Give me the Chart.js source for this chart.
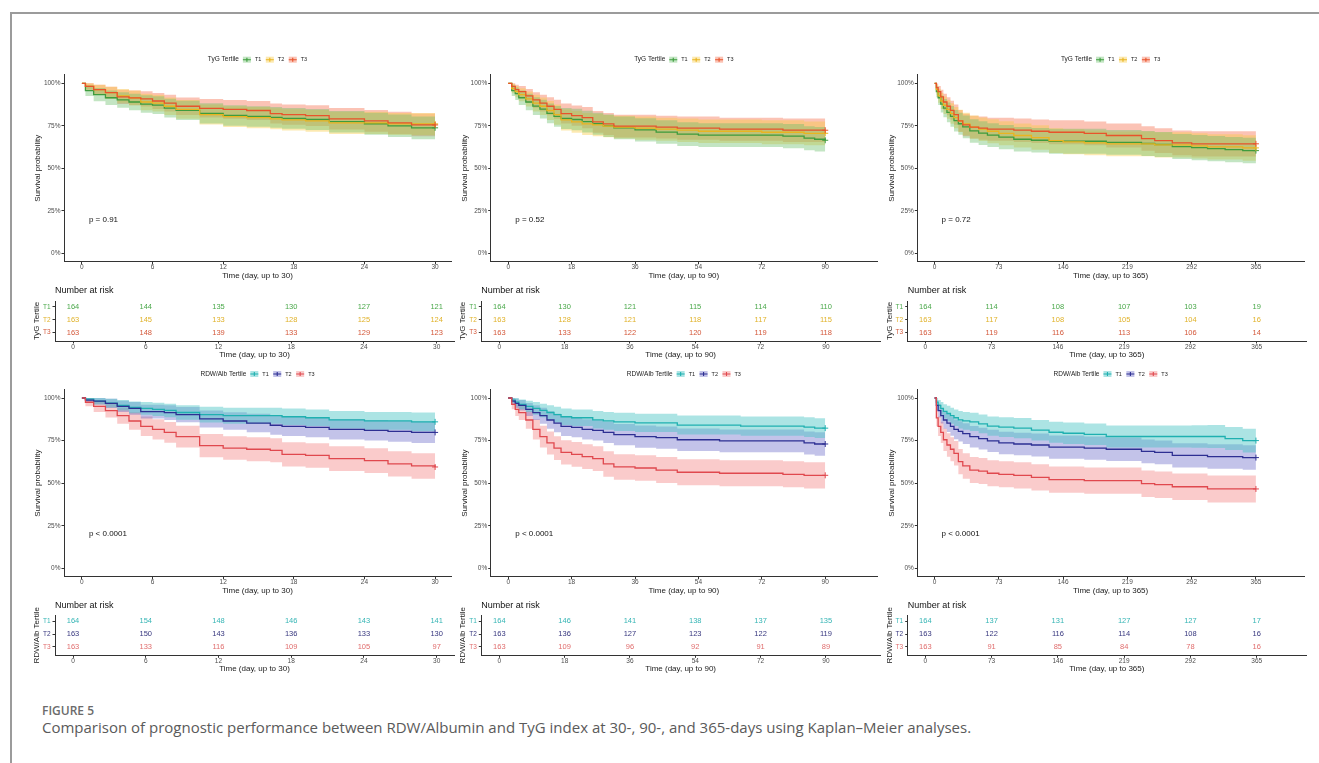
<!DOCTYPE html>
<html>
<head>
<meta charset="utf-8">
<title>Figure 5</title>
<script src="https://cdn.jsdelivr.net/npm/chart.js@4.4.1/dist/chart.umd.min.js"></script>
<style>
  body { margin: 0; background: #fff; }
  #page { position: relative; width: 1319px; height: 763px; overflow: hidden; background: #fff; }
  #frame { position: absolute; left: 10px; top: 12px; width: 1400px; height: 800px;
           border-top: 2px solid #9b9b9b; border-left: 2px solid #9b9b9b; }
  canvas { position: absolute; }
  .fig { position: absolute; left: 42px; top: 702px; font: 600 12px "Open Sans", sans-serif; color: #6b6b6b; }
  .cap { position: absolute; left: 42px; top: 717px; font: 15px "Open Sans", sans-serif; color: #5a5a5a; white-space: nowrap; }
</style>
</head>
<body>
<div id="page">
  <div id="frame"></div>
  <div class="fig">FIGURE 5</div>
  <div class="cap">Comparison of prognostic performance between RDW/Albumin and TyG index at 30-, 90-, and 365-days using Kaplan–Meier analyses.</div>
</div>
<script>
// ---- time grids (days) ----
const grid30 = [0, 0.3, 1, 2, 3, 4, 5, 6, 7, 8, 10, 12, 14, 16, 17, 19, 21, 24, 26, 28, 30];
const grid90 = [0, 1, 2, 3, 5, 7, 9, 11, 13, 15, 18, 21, 24, 27, 30, 36, 42, 48, 54, 60, 66, 72, 78, 84, 87, 90];
const grid365 = [0, 2, 4, 7, 10, 14, 18, 22, 27, 32, 40, 50, 60, 73, 90, 110, 130, 146, 170, 195, 219, 235, 250, 270, 292, 310, 330, 350, 365];

// ---- survival (%) and CI half width, TyG tertiles ----
const tyg30T1 = [100, 95.7, 93.3, 91.5, 90.2, 89.0, 87.8, 87.2, 85.4, 84.1, 82.3, 81.1, 80.5, 79.9, 79.3, 78.7, 77.4, 76.2, 75.0, 73.8, 73.8];
const tyg30T1ci = [0, 3.2, 3.9, 4.3, 4.6, 4.8, 5.1, 5.2, 5.5, 5.7, 5.9, 6.0, 6.0, 6.1, 6.1, 6.2, 6.3, 6.5, 6.6, 6.7, 6.7];
const tyg30T2 = [100, 98.2, 96.3, 94.5, 92.6, 91.4, 89.0, 88.3, 86.5, 84.7, 81.6, 80.4, 79.8, 79.1, 78.5, 77.9, 76.7, 76.7, 76.1, 76.1, 76.1];
const tyg30T2ci = [0, 2.0, 2.9, 3.5, 4.0, 4.3, 4.8, 4.9, 5.2, 5.5, 5.9, 6.1, 6.2, 6.2, 6.3, 6.4, 6.5, 6.5, 6.5, 6.5, 6.5];
const tyg30T3 = [100, 98.2, 96.3, 94.5, 92.0, 91.4, 90.8, 89.6, 88.3, 86.5, 85.3, 84.7, 84.0, 82.2, 81.6, 81.0, 79.1, 77.9, 76.7, 75.5, 75.5];
const tyg30T3ci = [0, 2.0, 2.9, 3.5, 4.2, 4.3, 4.5, 4.7, 4.9, 5.2, 5.4, 5.5, 5.6, 5.9, 6.0, 6.1, 6.3, 6.4, 6.5, 6.7, 6.7];

const tyg90T1 = [100, 95.7, 93.9, 91.5, 89.0, 86.6, 84.8, 82.3, 80.5, 79.3, 78.7, 77.4, 76.2, 75.0, 73.8, 72.6, 71.3, 70.1, 69.5, 69.5, 69.5, 69.5, 68.9, 67.7, 67.1, 66.5];
const tyg90T1ci = [0, 3.1, 3.7, 4.3, 4.8, 5.2, 5.5, 5.8, 6.1, 6.2, 6.3, 6.4, 6.5, 6.6, 6.7, 6.8, 6.9, 7.0, 7.0, 7.0, 7.0, 7.0, 7.1, 7.1, 7.2, 7.2];
const tyg90T2 = [100, 96.9, 95.1, 93.3, 90.8, 88.3, 86.5, 84.0, 81.6, 78.5, 77.3, 76.1, 75.5, 74.8, 74.2, 73.6, 73.0, 72.4, 71.8, 71.8, 71.8, 71.2, 71.2, 70.6, 70.6, 70.6];
const tyg90T2ci = [0, 2.7, 3.3, 3.8, 4.4, 4.9, 5.2, 5.6, 6.0, 6.3, 6.4, 6.5, 6.6, 6.6, 6.7, 6.8, 6.8, 6.9, 6.9, 6.9, 6.9, 7.0, 7.0, 7.0, 7.0, 7.0];
const tyg90T3 = [100, 98.2, 96.3, 95.1, 92.6, 90.2, 88.3, 86.5, 84.7, 82.2, 81.0, 79.8, 77.3, 76.1, 74.8, 74.8, 74.2, 73.6, 73.6, 73.0, 73.0, 73.0, 72.4, 72.4, 72.4, 72.4];
const tyg90T3ci = [0, 2.0, 2.9, 3.3, 4.0, 4.6, 4.9, 5.3, 5.6, 5.9, 6.0, 6.2, 6.4, 6.5, 6.7, 6.7, 6.7, 6.8, 6.8, 6.8, 6.8, 6.8, 6.9, 6.9, 6.9, 6.9];

const tyg365T1 = [100, 95.1, 91.5, 87.8, 85.4, 82.9, 80.5, 78.0, 76.2, 74.4, 72.0, 70.7, 69.5, 68.3, 67.1, 66.5, 65.9, 65.9, 65.9, 65.2, 65.2, 64.6, 64.0, 62.8, 62.2, 61.6, 61.0, 60.4, 60.4];
const tyg365T1ci = [0, 3.3, 4.3, 5.0, 5.4, 5.8, 6.1, 6.3, 6.5, 6.7, 6.9, 7.0, 7.0, 7.1, 7.2, 7.2, 7.3, 7.3, 7.3, 7.3, 7.3, 7.3, 7.3, 7.4, 7.4, 7.4, 7.4, 7.5, 7.5];
const tyg365T2 = [100, 96.3, 92.6, 89.6, 87.1, 84.7, 82.2, 79.8, 77.9, 76.1, 74.2, 73.0, 71.8, 70.6, 69.3, 68.1, 66.3, 65.6, 65.0, 64.4, 64.4, 64.4, 63.8, 63.8, 63.2, 62.6, 62.6, 62.0, 62.0];
const tyg365T2ci = [0, 3.0, 4.1, 4.7, 5.2, 5.6, 6.0, 6.2, 6.5, 6.6, 6.8, 6.9, 7.0, 7.1, 7.1, 7.2, 7.3, 7.3, 7.3, 7.3, 7.3, 7.3, 7.4, 7.4, 7.4, 7.4, 7.4, 7.5, 7.5];
const tyg365T3 = [100, 97.5, 95.1, 92.0, 89.0, 86.5, 84.1, 81.6, 77.9, 75.5, 74.2, 73.6, 73.0, 73.0, 72.4, 71.8, 71.2, 71.2, 70.6, 69.3, 69.3, 67.5, 66.3, 65.0, 64.4, 64.4, 64.4, 64.4, 64.4];
const tyg365T3ci = [0, 2.4, 3.3, 4.2, 4.8, 5.3, 5.6, 6.0, 6.4, 6.6, 6.7, 6.8, 6.8, 6.8, 6.9, 6.9, 7.0, 7.0, 7.0, 7.1, 7.1, 7.2, 7.3, 7.3, 7.4, 7.4, 7.4, 7.4, 7.4];

// ---- survival (%) and CI half width, RDW/Alb tertiles ----
const rdw30T1 = [100, 99.4, 98.2, 97.0, 95.7, 94.5, 93.9, 93.3, 92.7, 91.5, 90.2, 89.6, 89.6, 89.6, 89.0, 88.4, 87.2, 86.6, 86.6, 86.0, 86.0];
const rdw30T1ci = [0, 1.2, 2.0, 2.6, 3.1, 3.5, 3.7, 3.9, 4.0, 4.3, 4.6, 4.7, 4.7, 4.7, 4.8, 4.9, 5.1, 5.2, 5.2, 5.5, 5.5];
const rdw30T2 = [100, 98.8, 98.2, 96.9, 95.1, 93.9, 92.0, 92.0, 91.4, 90.2, 87.7, 86.5, 85.3, 84.0, 83.4, 82.8, 81.6, 81.0, 80.4, 79.8, 79.8];
const rdw30T2ci = [0, 1.7, 2.0, 2.7, 3.3, 3.7, 4.1, 4.1, 4.3, 4.5, 5.0, 5.2, 5.4, 5.6, 5.7, 5.8, 5.9, 6.0, 6.1, 6.2, 6.2];
const rdw30T3 = [100, 97.5, 95.1, 92.6, 89.6, 86.5, 83.4, 81.6, 79.8, 77.3, 72.0, 70.6, 69.9, 69.3, 66.9, 66.3, 64.4, 63.2, 61.3, 60.1, 59.5];
const rdw30T3ci = [0, 2.4, 3.3, 4.0, 4.7, 5.2, 5.7, 5.9, 6.1, 6.4, 6.8, 6.9, 7.0, 7.0, 7.1, 7.2, 7.3, 7.3, 7.4, 7.5, 7.5];

const rdw90T1 = [100, 98.8, 97.6, 96.3, 95.1, 93.9, 92.7, 91.5, 90.2, 89.0, 88.4, 88.4, 87.2, 86.6, 86.0, 85.4, 85.4, 84.1, 84.1, 84.1, 83.5, 83.5, 83.5, 82.9, 82.3, 82.3];
const rdw90T1ci = [0, 1.7, 2.4, 2.9, 3.3, 3.7, 4.0, 4.3, 4.6, 4.8, 4.9, 4.9, 5.1, 5.2, 5.3, 5.4, 5.4, 5.6, 5.6, 5.6, 5.7, 5.7, 5.7, 5.8, 5.8, 5.8];
const rdw90T2 = [100, 98.2, 96.9, 95.7, 93.3, 91.4, 89.6, 87.1, 85.3, 83.4, 82.8, 81.6, 81.0, 79.8, 78.5, 77.3, 76.7, 75.5, 75.5, 74.8, 74.8, 74.8, 74.8, 73.6, 73.0, 73.0];
const rdw90T2ci = [0, 2.0, 2.7, 3.1, 3.8, 4.3, 4.7, 5.1, 5.4, 5.7, 5.8, 6.0, 6.0, 6.2, 6.3, 6.5, 6.5, 6.6, 6.6, 6.7, 6.7, 6.7, 6.7, 6.8, 6.9, 6.9];
const rdw90T3 = [100, 96.3, 93.3, 91.4, 87.1, 81.6, 77.3, 73.6, 70.6, 68.1, 66.9, 65.6, 64.4, 61.3, 59.5, 58.9, 57.7, 56.4, 56.4, 55.8, 55.8, 55.8, 55.2, 54.6, 54.6, 54.6];
const rdw90T3ci = [0, 2.9, 3.8, 4.3, 5.1, 5.9, 6.4, 6.8, 7.0, 7.1, 7.2, 7.3, 7.3, 7.5, 7.5, 7.5, 7.6, 7.6, 7.6, 7.6, 7.6, 7.6, 7.6, 7.7, 7.7, 7.7];

const rdw365T1 = [100, 97.6, 95.7, 93.9, 92.1, 90.9, 89.6, 88.4, 87.2, 86.6, 86.0, 84.8, 83.5, 82.9, 82.3, 81.1, 79.9, 79.3, 78.7, 77.4, 77.4, 77.4, 77.4, 77.4, 77.4, 77.4, 76.2, 75.0, 75.0];
const rdw365T1ci = [0, 2.4, 3.2, 3.8, 4.2, 4.5, 4.7, 4.9, 5.1, 5.2, 5.3, 5.5, 5.6, 5.8, 5.9, 6.0, 6.2, 6.3, 6.3, 6.5, 6.5, 6.5, 6.5, 6.5, 6.6, 6.7, 6.8, 7.0, 7.0];
const rdw365T2 = [100, 95.7, 92.6, 89.6, 87.1, 85.3, 83.4, 81.6, 80.4, 79.1, 77.3, 76.1, 74.8, 73.6, 73.0, 72.4, 71.2, 71.2, 70.6, 69.9, 69.9, 68.7, 68.1, 66.3, 66.3, 65.6, 65.6, 65.0, 65.0];
const rdw365T2ci = [0, 3.1, 4.0, 4.6, 5.1, 5.3, 5.6, 5.8, 6.0, 6.1, 6.3, 6.4, 6.5, 6.6, 6.6, 6.7, 6.8, 6.8, 6.8, 6.9, 6.9, 7.0, 7.0, 7.1, 7.1, 7.2, 7.2, 7.2, 7.2];
const rdw365T3 = [100, 88.3, 83.4, 79.8, 75.5, 72.4, 69.9, 67.5, 62.6, 60.1, 57.7, 57.1, 55.8, 55.2, 54.6, 53.4, 52.1, 52.1, 51.5, 51.5, 51.5, 49.7, 49.1, 47.9, 47.9, 46.6, 46.6, 46.6, 46.6];
const rdw365T3ci = [0, 4.9, 5.7, 6.2, 6.6, 6.9, 7.0, 7.2, 7.4, 7.5, 7.6, 7.6, 7.6, 7.6, 7.7, 7.7, 7.7, 7.7, 7.7, 7.7, 7.7, 7.8, 7.8, 7.8, 7.8, 7.9, 7.9, 7.9, 7.9];

// ---- number at risk ----
const riskTyg30 = [[164, 144, 135, 130, 127, 121], [163, 145, 133, 128, 125, 124], [163, 148, 139, 133, 129, 123]];
const riskTyg90 = [[164, 130, 121, 115, 114, 110], [163, 128, 121, 118, 117, 115], [163, 133, 122, 120, 119, 118]];
const riskTyg365 = [[164, 114, 108, 107, 103, 19], [163, 117, 108, 105, 104, 16], [163, 119, 116, 113, 106, 14]];
const riskRdw30 = [[164, 154, 148, 146, 143, 141], [163, 150, 143, 136, 133, 130], [163, 133, 116, 109, 105, 97]];
const riskRdw90 = [[164, 146, 141, 138, 137, 135], [163, 136, 127, 123, 122, 119], [163, 109, 96, 92, 91, 89]];
const riskRdw365 = [[164, 137, 131, 127, 127, 17], [163, 122, 116, 114, 108, 16], [163, 91, 85, 84, 78, 16]];

// ---- ticks and labels ----
const xTicks30 = [0, 6, 12, 18, 24, 30];
const xTicks90 = [0, 18, 36, 54, 72, 90];
const xTicks365 = [0, 73, 146, 219, 292, 365];
const yTicks = [0, 25, 50, 75, 100];
const groupLabels = ['T1', 'T2', 'T3'];
const pValues = ['p = 0.91', 'p = 0.52', 'p = 0.72', 'p < 0.0001', 'p < 0.0001', 'p < 0.0001'];

// ---- styles ----
const FONT = '"Liberation Sans", Arial, sans-serif';
const AXIS = '#333333';
const tygStyle = {
    name: 'TyG Tertile',
    line: ['#3d9c3d', '#e9b420', '#e8532b'],
    band: ['rgba(105,190,105,0.40)', 'rgba(248,200,60,0.40)', 'rgba(245,105,70,0.40)'],
    text: ['#4aa84a', '#e0b22a', '#d4583a']
};
const rdwStyle = {
    name: 'RDW/Alb Tertile',
    line: ['#1fb0b0', '#2d2f92', '#e0484e'],
    band: ['rgba(70,195,195,0.45)', 'rgba(80,80,190,0.34)', 'rgba(242,110,110,0.36)'],
    text: ['#36b5b5', '#37377f', '#e06d6d']
};

// ---- layout (page pixels) ----
const kmAxisX = [64, 490.7, 917.3];
const kmRight = [453, 879, 1306];
const kmXRange = [[-1.52, 31.35], [-4.97, 104.7], [-19.66, 419.6]];
const tabAxisX = [55, 481.3, 907.7];
const tabRight = [454, 880, 1306];
const tabXRange = [[-1.485, 31.43], [-4.96, 104.9], [-19.4, 419.3]];
const legendY = [59.7, 374];
const kmTop = [74.8, 389.5];
const kmBottom = [261.8, 576.8];
const nrY = [291, 605.5];
const tabTop = [301, 615.3];
const tabBottom = [341, 655.3];

const page = document.getElementById('page');

function addCanvas(left, top, width, height) {
    const c = document.createElement('canvas');
    c.width = width;
    c.height = height;
    c.style.left = left + 'px';
    c.style.top = top + 'px';
    c.style.width = width + 'px';
    c.style.height = height + 'px';
    page.appendChild(c);
    return c;
}

// legend + p value drawn on the KM charts
const kmDecor = {
    id: 'kmDecor',
    afterDraw(chart, args, o) {
        const ctx = chart.ctx;
        const area = chart.chartArea;
        ctx.save();
        ctx.textBaseline = 'middle';
        ctx.textAlign = 'left';
        const boxW = 8, boxH = 6;
        ctx.font = '6.5px ' + FONT;
        const titleW = ctx.measureText(o.style.name).width;
        ctx.font = '5.5px ' + FONT;
        let total = titleW + 4;
        groupLabels.forEach(l => { total += boxW + 4 + ctx.measureText(l).width + 4.5; });
        total -= 4.5;
        let x = (area.left + area.right) / 2 - total / 2;
        const y = o.legendY;
        ctx.fillStyle = '#222';
        ctx.font = '6.5px ' + FONT;
        ctx.fillText(o.style.name, x, y);
        x += titleW + 4;
        ctx.font = '5.5px ' + FONT;
        groupLabels.forEach((l, g) => {
            ctx.fillStyle = o.style.band[g];
            ctx.fillRect(x, y - boxH / 2, boxW, boxH);
            ctx.strokeStyle = o.style.line[g];
            ctx.lineWidth = 1.1;
            ctx.beginPath();
            ctx.moveTo(x, y); ctx.lineTo(x + boxW, y);
            ctx.moveTo(x + boxW / 2, y - 2); ctx.lineTo(x + boxW / 2, y + 2);
            ctx.stroke();
            x += boxW + 4;
            ctx.fillStyle = '#222';
            ctx.fillText(l, x, y);
            x += ctx.measureText(l).width + 4.5;
        });
        // p value
        const xs = chart.scales.x, ys = chart.scales.y;
        ctx.font = '8px ' + FONT;
        ctx.fillStyle = '#111';
        ctx.fillText(o.pText, xs.getPixelForValue(0) + 7, ys.getPixelForValue(20));
        ctx.restore();
    }
};

// number-at-risk table text
const riskText = {
    id: 'riskText',
    afterDraw(chart, args, o) {
        const ctx = chart.ctx;
        const xs = chart.scales.x, ys = chart.scales.y;
        ctx.save();
        ctx.textBaseline = 'middle';
        ctx.textAlign = 'left';
        ctx.font = '9px ' + FONT;
        ctx.fillStyle = '#111';
        ctx.fillText('Number at risk', chart.chartArea.left, o.titleY);
        ctx.font = '7.5px ' + FONT;
        ctx.textAlign = 'center';
        o.counts.forEach((row, g) => {
            ctx.fillStyle = o.style.text[g];
            row.forEach((n, i) => {
                ctx.fillText(String(n), xs.getPixelForValue(o.times[i]), ys.getPixelForValue(3 - g));
            });
        });
        ctx.restore();
    }
};

function xAxis(range, ticks, title, height) {
    return {
        type: 'linear',
        min: range[0],
        max: range[1],
        afterBuildTicks: s => { s.ticks = ticks.map(v => ({ value: v })); },
        afterFit: s => { s.height = height; },
        grid: { drawOnChartArea: false, drawTicks: true, tickLength: 2.5, color: AXIS, lineWidth: 1 },
        border: { display: true, color: AXIS, width: 1 },
        ticks: { font: { family: FONT, size: 6.5, lineHeight: 1 }, color: '#4d4d4d', padding: 0,
                 maxRotation: 0, autoSkip: false, callback: v => String(v) },
        title: { display: true, text: title, font: { family: FONT, size: 8 }, color: '#1a1a1a', padding: 0 }
    };
}

function drawKM(col, row, grid, curves, cis, style, pText, ticks, title) {
    const left = Math.round(kmAxisX[col] - 40);
    const top = Math.round(legendY[row] - 10);
    const width = Math.round(kmRight[col] + 3 - left);
    const height = Math.round(kmBottom[row] + 19.5 - top);
    const canvas = addCanvas(left, top, width, height);

    const datasets = [];
    curves.forEach((s, g) => {
        datasets.push({
            data: grid.map((t, i) => ({ x: t, y: s[i] - cis[g][i] })),
            stepped: 'before', borderWidth: 0, pointRadius: 0, fill: false, order: 10
        });
        datasets.push({
            data: grid.map((t, i) => ({ x: t, y: Math.min(100, s[i] + cis[g][i]) })),
            stepped: 'before', borderWidth: 0, pointRadius: 0, fill: '-1',
            backgroundColor: style.band[g], order: 10
        });
    });
    curves.forEach((s, g) => {
        datasets.push({
            data: grid.map((t, i) => ({ x: t, y: s[i] })),
            stepped: 'before', borderColor: style.line[g], borderWidth: 1.3, fill: false,
            pointStyle: 'cross', pointBorderColor: style.line[g], pointBorderWidth: 1,
            pointRadius: grid.map((t, i) => (i === grid.length - 1 ? 3 : 0)),
            order: 3 - g
        });
    });

    new Chart(canvas, {
        type: 'line',
        data: { datasets },
        plugins: [kmDecor],
        options: {
            responsive: false,
            animation: false,
            events: [],
            layout: { padding: { left: kmAxisX[col] - 40 - left, right: 3, top: kmTop[row] - top, bottom: 0 } },
            plugins: {
                legend: { display: false },
                tooltip: { enabled: false },
                filler: { drawTime: 'beforeDatasetsDraw' },
                kmDecor: { style, pText, legendY: legendY[row] - top }
            },
            scales: {
                x: xAxis(kmXRange[col], ticks, title, top + height - kmBottom[row]),
                y: {
                    type: 'linear',
                    min: -5,
                    max: 105,
                    afterBuildTicks: s => { s.ticks = yTicks.map(v => ({ value: v })); },
                    afterFit: s => { s.width = 40; },
                    grid: { drawOnChartArea: false, drawTicks: true, tickLength: 2.5, color: AXIS, lineWidth: 1 },
                    border: { display: true, color: AXIS, width: 1 },
                    ticks: { font: { family: FONT, size: 6.5 }, color: '#4d4d4d', padding: 1, callback: v => v + '%' },
                    title: { display: true, text: 'Survival probability', font: { family: FONT, size: 8 },
                             color: '#1a1a1a', padding: { top: 9.2, bottom: 0 } }
                }
            }
        }
    });
}

function drawRisk(col, row, counts, style, ticks, title) {
    const left = Math.round(tabAxisX[col] - 40);
    const top = Math.round(nrY[row] - 9);
    const width = Math.round(tabRight[col] + 3 - left);
    const height = Math.round(tabBottom[row] + 18.5 - top);
    const canvas = addCanvas(left, top, width, height);

    new Chart(canvas, {
        type: 'scatter',
        data: { datasets: [] },
        plugins: [riskText],
        options: {
            responsive: false,
            animation: false,
            events: [],
            layout: { padding: { left: tabAxisX[col] - 40 - left, right: 3, top: tabTop[row] - top, bottom: 0 } },
            plugins: {
                legend: { display: false },
                tooltip: { enabled: false },
                riskText: { counts, style, times: ticks, titleY: nrY[row] - top }
            },
            scales: {
                x: xAxis(tabXRange[col], ticks, title, top + height - tabBottom[row]),
                y: {
                    type: 'linear',
                    min: 0.35,
                    max: 3.45,
                    afterBuildTicks: s => { s.ticks = [1, 2, 3].map(v => ({ value: v })); },
                    afterFit: s => { s.width = 40; },
                    grid: { drawOnChartArea: false, drawTicks: true, tickLength: 2.5, color: AXIS, lineWidth: 1 },
                    border: { display: true, color: AXIS, width: 1 },
                    ticks: {
                        font: { family: FONT, size: 6.5 },
                        padding: 2,
                        color: c => style.text[2 - c.index],
                        callback: v => groupLabels[3 - v]
                    },
                    title: { display: true, text: style.name, font: { family: FONT, size: 8 },
                             color: '#1a1a1a', padding: { top: 17, bottom: 0 } }
                }
            }
        }
    });
}

// top row: TyG
drawKM(0, 0, grid30, [tyg30T1, tyg30T2, tyg30T3], [tyg30T1ci, tyg30T2ci, tyg30T3ci], tygStyle, pValues[0], xTicks30, 'Time (day, up to 30)');
drawKM(1, 0, grid90, [tyg90T1, tyg90T2, tyg90T3], [tyg90T1ci, tyg90T2ci, tyg90T3ci], tygStyle, pValues[1], xTicks90, 'Time (day, up to 90)');
drawKM(2, 0, grid365, [tyg365T1, tyg365T2, tyg365T3], [tyg365T1ci, tyg365T2ci, tyg365T3ci], tygStyle, pValues[2], xTicks365, 'Time (day, up to 365)');
drawRisk(0, 0, riskTyg30, tygStyle, xTicks30, 'Time (day, up to 30)');
drawRisk(1, 0, riskTyg90, tygStyle, xTicks90, 'Time (day, up to 90)');
drawRisk(2, 0, riskTyg365, tygStyle, xTicks365, 'Time (day, up to 365)');

// bottom row: RDW/Alb
drawKM(0, 1, grid30, [rdw30T1, rdw30T2, rdw30T3], [rdw30T1ci, rdw30T2ci, rdw30T3ci], rdwStyle, pValues[3], xTicks30, 'Time (day, up to 30)');
drawKM(1, 1, grid90, [rdw90T1, rdw90T2, rdw90T3], [rdw90T1ci, rdw90T2ci, rdw90T3ci], rdwStyle, pValues[4], xTicks90, 'Time (day, up to 90)');
drawKM(2, 1, grid365, [rdw365T1, rdw365T2, rdw365T3], [rdw365T1ci, rdw365T2ci, rdw365T3ci], rdwStyle, pValues[5], xTicks365, 'Time (day, up to 365)');
drawRisk(0, 1, riskRdw30, rdwStyle, xTicks30, 'Time (day, up to 30)');
drawRisk(1, 1, riskRdw90, rdwStyle, xTicks90, 'Time (day, up to 90)');
drawRisk(2, 1, riskRdw365, rdwStyle, xTicks365, 'Time (day, up to 365)');
</script>
</body>
</html>
